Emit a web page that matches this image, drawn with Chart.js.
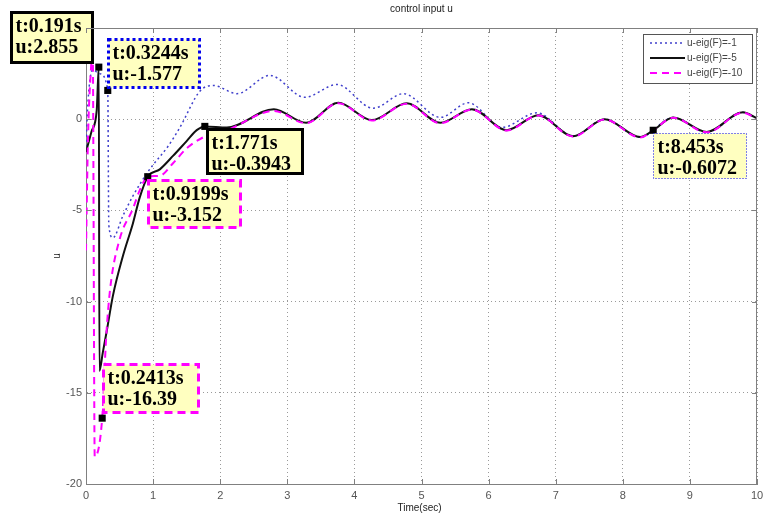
<!DOCTYPE html>
<html>
<head>
<meta charset="utf-8">
<script src="https://cdn.jsdelivr.net/npm/chart.js@4.4.0/dist/chart.umd.min.js"></script>
<style>
  html, body { margin: 0; padding: 0; background: #fff; }
</style>
</head>
<body>
<canvas id="chart" width="769" height="516"></canvas>
<script>
'use strict'

// series names as in the legend
const seriesNames = ['u-eig(F)=-1', 'u-eig(F)=-5', 'u-eig(F)=-10']

// eig(F) = -1 (blue dotted)
const tBlue = [0, 0.03, 0.1, 0.2, 0.3244, 0.34, 0.4, 0.55, 0.7, 0.92, 1.0, 1.22, 1.4, 1.7, 1.9, 2.25, 2.74, 3.26, 3.74, 4.28, 4.73, 5.28, 5.7, 6.2, 6.72, 7.26, 7.73, 8.26, 8.75, 9.25, 9.79, 10]
const uBlue = [-1.5, 1.0, 2.7, 2.5, 1.577, -5.8, -6.5, -5.3, -4.2, -2.9, -2.5, -1.5, -0.45, 1.55, 1.85, 1.4, 2.4, 1.2, 1.9, 0.6, 1.4, 0.1, 0.9, -0.45, 0.35, -0.92, 0.0, -0.99, 0.09, -0.71, 0.37, 0.04]

// eig(F) = -5 (black solid)
const tBlack = [0, 0.08, 0.16, 0.191, 0.2, 0.25, 0.31, 0.4, 0.55, 0.7, 0.8, 0.92, 1.1, 1.3, 1.5, 1.65, 1.771, 2.1, 2.8, 3.28, 3.76, 4.26, 4.78, 5.28, 5.75, 6.27, 6.74, 7.26, 7.73, 8.26, 8.453, 8.75, 9.25, 9.79, 10]
const uBlack = [-1.8, -0.7, 0.5, 2.855, -13.8, -12.8, -11.6, -9.7, -7.5, -5.7, -4.3, -3.152, -2.75, -2.0, -1.2, -0.6, -0.394, -0.45, 0.55, -0.2, 0.9, -0.05, 0.87, -0.2, 0.55, -0.6, 0.22, -0.93, 0.0, -0.98, -0.607, 0.1, -0.7, 0.38, 0.05]

// eig(F) = -10 (magenta dashed)
const tMag = [0, 0.03, 0.07, 0.1, 0.13, 0.2413, 0.3, 0.36, 0.5, 0.7, 0.8, 0.92, 1.1, 1.3, 1.5, 1.771, 2.1, 2.8, 3.28, 3.76, 4.26, 4.78, 5.28, 5.75, 6.27, 6.74, 7.26, 7.73, 8.26, 8.453, 8.75, 9.25, 9.79, 10]
const uMag = [-7.2, -1.0, 2.5, 3.8, -18.5, -16.39, -12.0, -9.3, -6.6, -4.9, -3.9, -3.152, -3.1, -2.4, -1.6, -0.95, -0.6, 0.45, -0.22, 0.88, -0.07, 0.85, -0.22, 0.53, -0.62, 0.2, -0.95, -0.02, -1.0, -0.607, 0.08, -0.72, 0.36, 0.03]

// data tips (marker position as drawn, label text as printed)
const tipT = [0.191, 0.3244, 1.771, 0.9199, 0.2413, 8.453]
const tipU = [2.855, 1.577, -0.3943, -3.152, -16.39, -0.6072]
const tipText = [
  ['t:0.191s', 'u:2.855'],
  ['t:0.3244s', 'u:-1.577'],
  ['t:1.771s', 'u:-0.3943'],
  ['t:0.9199s', 'u:-3.152'],
  ['t:0.2413s', 'u:-16.39'],
  ['t:8.453s', 'u:-0.6072']
]

// axis ranges
const xMin = 0, xMax = 10, xStep = 1
const yMin = -20, yMax = 5, yStep = 5

// styles, kept away from the data
const lineStyles = [
  { color: '#4040cc', width: 1.5, dash: [2, 3] },
  { color: '#111111', width: 2, dash: [] },
  { color: '#ff00ff', width: 2, dash: [7, 5] }
]
const tipBoxes = [
  { dx: -88, dy: -55, w: 81, h: 50, color: '#000', lw: 3, dash: [] },
  { dx: 0, dy: -51, w: 91, h: 48, color: '#0000ee', lw: 3, dash: [3, 3] },
  { dx: 2, dy: 3, w: 95, h: 44, color: '#000', lw: 3, dash: [] },
  { dx: 0, dy: 3.5, w: 92, h: 47, color: '#ff00ff', lw: 3, dash: [8, 5] },
  { dx: 1, dy: -54, w: 95, h: 48, color: '#ff00ff', lw: 3, dash: [8, 5] },
  { dx: 0, dy: 3, w: 93, h: 45, color: '#0000ee', lw: 1, dash: [1, 2] }
]

function toPoints(ts, us) {
  return ts.map(function(t, i) { return { x: t, y: us[i] } })
}

function lineDataset(i, ts, us, order) {
  return {
    label: seriesNames[i],
    data: toPoints(ts, us),
    borderColor: lineStyles[i].color,
    borderWidth: lineStyles[i].width,
    borderDash: lineStyles[i].dash,
    pointRadius: 0,
    cubicInterpolationMode: 'monotone',
    fill: false,
    order: order
  }
}

const decor = {
  id: 'decor',
  afterDatasetsDraw(chart) {
    const ctx = chart.ctx
    const xs = chart.scales.x, ys = chart.scales.y
    tipT.forEach(function(t, i) {
      const b = tipBoxes[i]
      const x = Math.round(xs.getPixelForValue(t) + b.dx) + 0.5
      const y = Math.round(ys.getPixelForValue(tipU[i]) + b.dy) + 0.5
      ctx.save()
      ctx.fillStyle = '#ffffc0'
      ctx.fillRect(x, y, b.w, b.h)
      ctx.strokeStyle = b.color
      ctx.lineWidth = b.lw
      ctx.setLineDash(b.dash)
      ctx.strokeRect(x, y, b.w, b.h)
      ctx.setLineDash([])
      ctx.fillStyle = '#000'
      ctx.font = 'bold 20px "Liberation Serif"'
      ctx.textBaseline = 'alphabetic'
      ctx.textAlign = 'left'
      ctx.fillText(tipText[i][0], x + 4, y + 19.5)
      ctx.fillText(tipText[i][1], x + 4, y + 40.5)
      ctx.restore()
    })
  },
  afterDraw(chart) {
    const ctx = chart.ctx
    const a = chart.chartArea
    const xs = chart.scales.x, ys = chart.scales.y
    ctx.save()
    // frame top and right
    ctx.strokeStyle = '#808080'
    ctx.lineWidth = 1
    ctx.beginPath()
    ctx.moveTo(a.left, a.top + 0.5); ctx.lineTo(a.right, a.top + 0.5)
    ctx.moveTo(a.right - 0.5, a.top); ctx.lineTo(a.right - 0.5, a.bottom)
    // inward tick marks
    for (let v = xMin; v <= xMax; v += xStep) {
      const px = Math.round(xs.getPixelForValue(v)) + 0.5
      ctx.moveTo(px, a.bottom); ctx.lineTo(px, a.bottom - 5)
      ctx.moveTo(px, a.top); ctx.lineTo(px, a.top + 5)
    }
    for (let v = yMin; v <= yMax; v += yStep) {
      const py = Math.round(ys.getPixelForValue(v)) + 0.5
      ctx.moveTo(a.left, py); ctx.lineTo(a.left + 5, py)
      ctx.moveTo(a.right, py); ctx.lineTo(a.right - 5, py)
    }
    ctx.stroke()

    // titles
    ctx.fillStyle = '#222'
    ctx.font = '10px "Liberation Sans"'
    ctx.textAlign = 'center'
    ctx.textBaseline = 'middle'
    ctx.fillText('control input u', (a.left + a.right) / 2, 9)
    ctx.fillText('Time(sec)', (a.left + a.right) / 2 - 2, 508)
    ctx.save()
    ctx.translate(57, (a.top + a.bottom) / 2)
    ctx.rotate(-Math.PI / 2)
    ctx.fillText('u', 0, 0)
    ctx.restore()

    // legend
    const lx = 643, ly = 34, lw = 109, lh = 49
    ctx.fillStyle = '#fff'
    ctx.fillRect(lx, ly, lw, lh)
    ctx.strokeStyle = '#555'
    ctx.lineWidth = 1
    ctx.strokeRect(lx + 0.5, ly + 0.5, lw, lh)
    const rows = [43, 58, 73]
    seriesNames.forEach(function(name, i) {
      const st = lineStyles[i]
      ctx.strokeStyle = st.color
      ctx.lineWidth = st.width
      ctx.setLineDash(st.dash)
      ctx.beginPath()
      ctx.moveTo(650, rows[i]); ctx.lineTo(685, rows[i])
      ctx.stroke()
      ctx.setLineDash([])
      ctx.fillStyle = '#444'
      ctx.textAlign = 'left'
      ctx.fillText(name, 687, rows[i])
    })
    ctx.restore()
  }
}

const chart = new Chart(document.getElementById('chart').getContext('2d'), {
  type: 'line',
  data: {
    datasets: [
      {
        label: 'tips',
        data: toPoints(tipT, tipU),
        showLine: false,
        pointStyle: 'rect',
        pointRadius: 5,
        pointBackgroundColor: '#000',
        pointBorderColor: '#000',
        pointBorderWidth: 0,
        order: 0
      },
      lineDataset(2, tMag, uMag, 1),
      lineDataset(1, tBlack, uBlack, 2),
      lineDataset(0, tBlue, uBlue, 3)
    ]
  },
  options: {
    responsive: false,
    animation: false,
    events: [],
    layout: { padding: { top: 28, right: 12, left: 0, bottom: 0 } },
    plugins: {
      legend: { display: false },
      title: { display: false },
      tooltip: { enabled: false }
    },
    scales: {
      x: {
        type: 'linear',
        min: xMin,
        max: xMax,
        afterFit: function(s) { s.height = 32 },
        ticks: { stepSize: xStep, padding: 5, color: '#555', font: { family: 'Liberation Sans', size: 11 }, maxRotation: 0 },
        grid: { color: '#9a9a9a', drawTicks: false },
        border: { color: '#808080', dash: [1, 3] }
      },
      y: {
        type: 'linear',
        min: yMin,
        max: yMax,
        afterFit: function(s) { s.width = 86 },
        ticks: { stepSize: yStep, padding: 4, color: '#555', font: { family: 'Liberation Sans', size: 11 } },
        grid: { color: '#9a9a9a', drawTicks: false },
        border: { color: '#808080', dash: [1, 3] }
      }
    }
  },
  plugins: [decor]
})
</script>
</body>
</html>
